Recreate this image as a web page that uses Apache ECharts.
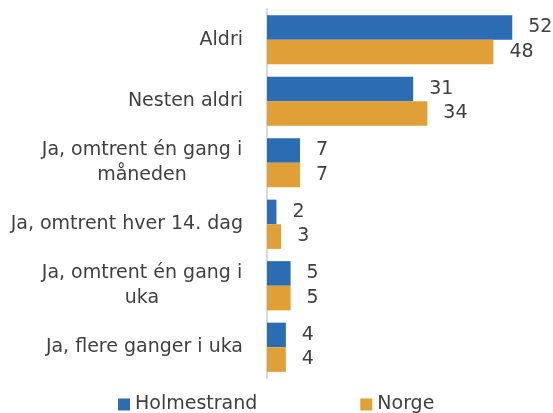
<!DOCTYPE html>
<html>
<head>
<meta charset="utf-8">
<script src="https://cdn.jsdelivr.net/npm/echarts@6/dist/echarts.min.js"></script>
<style>
  html, body { margin: 0; padding: 0; background: #fff; }
  #chart { width: 553px; height: 413px; }
</style>
</head>
<body>
<div id="chart"></div>
<script>
// Answer categories, top to bottom
const categories = [
  'Aldri',
  'Nesten aldri',
  'Ja, omtrent én gang i\nmåneden',
  'Ja, omtrent hver 14. dag',
  'Ja, omtrent én gang i\nuka',
  'Ja, flere ganger i uka'
];
// Share in percent
const holmestrand = [52, 31, 7, 2, 5, 4];
const norge = [48, 34, 7, 3, 5, 4];
const seriesNames = ['Holmestrand', 'Norge'];

const FONT = '"DejaVu Sans", "Noto Sans", sans-serif';
const TEXT = '#404040';
const FS = 19;

const chart = echarts.init(document.getElementById('chart'));

// Two-line labels: each line centred inside a fixed-width box that sits right-aligned at the axis
function catLabel(v) {
  if (v.indexOf('\n') >= 0) {
    return v.split('\n').map(l => '{c|' + l + '}').join('\n');
  }
  return v;
}

chart.setOption({
  animation: false,
  textStyle: { fontFamily: FONT },
  grid: { left: 267, top: 9, width: 283, height: 369, containLabel: false },
  xAxis: {
    type: 'value', min: 0, max: 60,
    show: false
  },
  yAxis: {
    type: 'category',
    data: categories,
    inverse: true,
    axisLine: { show: true, lineStyle: { color: '#d9d9d9', width: 2 } },
    axisTick: { show: false },
    axisLabel: {
      margin: 24,
      color: TEXT,
      fontSize: FS,
      fontFamily: FONT,
      lineHeight: 25,
      formatter: catLabel,
      rich: {
        c: { width: 202, align: 'center', fontSize: FS, color: TEXT, fontFamily: FONT, lineHeight: 25 }
      }
    }
  },
  legend: {
    bottom: -6, left: 113,
    itemWidth: 12, itemHeight: 12,
    itemGap: 103,
    icon: 'rect',
    textStyle: { color: TEXT, fontSize: FS, fontFamily: FONT },
    data: seriesNames
  },
  series: [
    {
      name: seriesNames[0], type: 'bar', data: holmestrand,
      itemStyle: { color: '#2B6CB3' },
      barGap: '0%', barCategoryGap: '20%',
      label: { show: true, position: 'right', distance: 16, color: TEXT, fontSize: FS, fontFamily: FONT }
    },
    {
      name: seriesNames[1], type: 'bar', data: norge,
      itemStyle: { color: '#E09F37' },
      barGap: '0%', barCategoryGap: '20%',
      label: { show: true, position: 'right', distance: 16, color: TEXT, fontSize: FS, fontFamily: FONT }
    }
  ]
});
</script>
</body>
</html>
